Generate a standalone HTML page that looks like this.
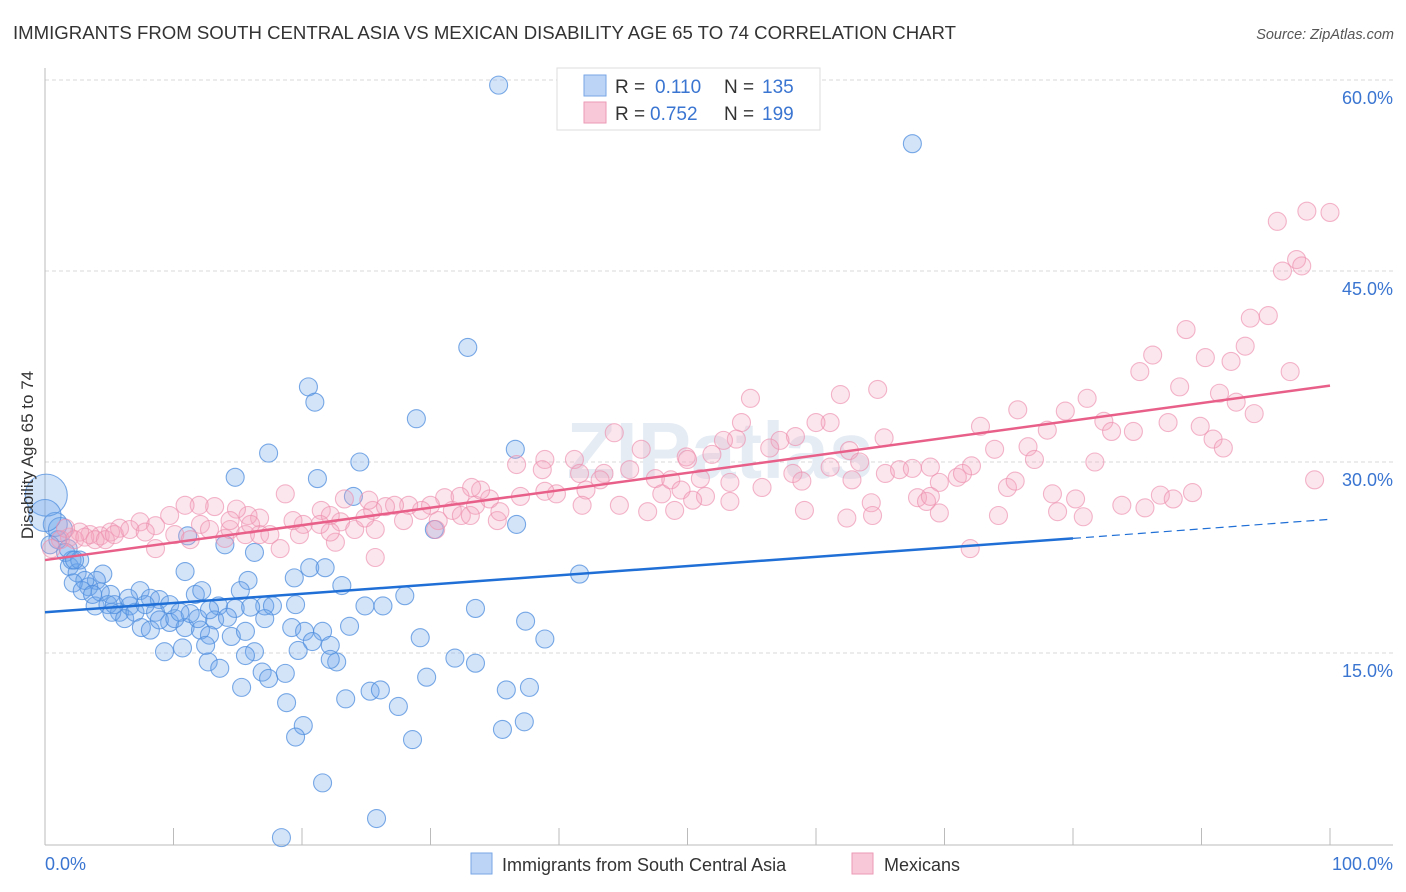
<!DOCTYPE html>
<html><head><meta charset="utf-8">
<style>
body{margin:0;background:#fff;font-family:"Liberation Sans",sans-serif;}
svg{display:block}
</style></head>
<body>
<svg id="chart" width="1406" height="892">
<text x="13" y="39" font-size="18.6" fill="#333">IMMIGRANTS FROM SOUTH CENTRAL ASIA VS MEXICAN DISABILITY AGE 65 TO 74 CORRELATION CHART</text>
<text x="1394" y="39" font-size="14.5" fill="#555" font-style="italic" text-anchor="end">Source: ZipAtlas.com</text>
<g id="grid"></g>
<text x="720" y="478" font-size="80" fill="#e6ecf4" text-anchor="middle" font-weight="bold">ZIPatlas</text>
<g id="axes"></g>
<g id="blue"></g>
<g id="pink"></g>
<g id="trends"></g>
<text x="33" y="455" font-size="17" fill="#333" text-anchor="middle" transform="rotate(-90 33 455)">Disability Age 65 to 74</text>
<text x="45" y="870" font-size="18" fill="#3a75d1">0.0%</text>
<text x="1393" y="870" font-size="18" fill="#3a75d1" text-anchor="end">100.0%</text>
<g>
<rect x="557" y="68" width="263" height="62" fill="#fff" stroke="#ddd"/>
<rect x="584" y="75" width="22" height="21" fill="#bcd4f5" stroke="#7aa6e6"/>
<text x="615" y="93" font-size="19" fill="#333">R = </text><text x="655" y="93" font-size="19" fill="#3a75d1">0.110</text>
<text x="724" y="93" font-size="19" fill="#333">N = </text><text x="762" y="93" font-size="19" fill="#3a75d1">135</text>
<rect x="584" y="102" width="22" height="21" fill="#f8c8d8" stroke="#eb9ab5"/>
<text x="615" y="120" font-size="19" fill="#333">R = </text><text x="650" y="120" font-size="19" fill="#3a75d1">0.752</text>
<text x="724" y="120" font-size="19" fill="#333">N = </text><text x="762" y="120" font-size="19" fill="#3a75d1">199</text>
</g>
<g>
<rect x="471" y="853" width="21" height="21" fill="#bcd4f5" stroke="#7aa6e6"/>
<text x="502" y="871" font-size="18" fill="#333">Immigrants from South Central Asia</text>
<rect x="852" y="853" width="21" height="21" fill="#f8c8d8" stroke="#eb9ab5"/>
<text x="884" y="871" font-size="18" fill="#333">Mexicans</text>
</g>
</svg>
<script>
const yTicks=[15,30,45,60];
const yTickLabels=["15.0%","30.0%","45.0%","60.0%"];
const xTicks=[0,10,20,30,40,50,60,70,80,90,100];
const blueX=[35.3,67.5,32.9,20.5,21.0,28.9,17.4,14.8,21.2,24.5,36.6,24.0,30.3,36.7,41.6,11.1,14.0,16.3,20.6,21.8,10.9,15.8,23.1,19.4,4.5,1.9,2.5,4.0,3.4,5.1,7.4,8.2,8.9,11.7,12.2,13.5,14.8,17.1,17.7,16.0,19.5,24.9,26.3,28.0,33.5,37.4,38.9,3.9,5.8,6.6,8.6,9.7,10.9,12.1,13.2,14.5,15.6,19.2,21.6,20.2,20.8,23.7,22.2,29.2,9.3,10.7,12.7,13.6,16.3,16.9,18.7,19.7,22.7,29.7,31.9,33.5,15.3,25.3,26.1,23.4,27.5,35.9,37.7,18.8,20.1,19.5,37.3,35.6,28.6,21.6,25.8,18.4,1.0,0.8,1.2,0.4,1.6,2.1,2.7,3.1,4.3,4.9,5.2,6.2,7.0,7.5,8.2,8.9,10.1,11.3,11.9,12.8,14.2,15.2,17.1,12.8,0.1,0.0,1.8,2.2,2.9,3.7,5.4,6.5,7.8,9.7,10.5,17.4,15.6,22.2,12.5,2.3];
const blueY=[59.6,55.0,39.0,35.9,34.7,33.4,30.7,28.8,28.7,30.0,31.0,27.3,24.7,25.1,21.2,24.2,23.5,22.9,21.7,21.7,21.4,20.7,20.3,20.9,21.2,21.8,21.3,20.7,20.2,19.6,19.9,19.3,19.2,19.6,19.9,18.7,18.5,18.7,18.7,18.6,18.8,18.7,18.7,19.5,18.5,17.5,16.1,18.7,18.2,18.7,18.2,17.4,17.0,16.8,17.6,16.3,16.7,17.0,16.7,16.7,15.9,17.1,15.6,16.2,15.1,15.4,14.3,13.8,15.1,13.5,13.4,15.2,14.3,13.1,14.6,14.2,12.3,12.0,12.1,11.4,10.8,12.1,12.3,11.1,9.3,8.4,9.6,9.0,8.2,4.8,2.0,0.5,23.9,25.1,24.7,23.5,22.9,22.3,22.3,20.7,19.8,18.8,18.2,17.7,18.2,17.0,16.8,17.6,17.7,18.1,17.7,18.4,17.8,19.9,17.7,16.4,27.4,25.8,23.2,20.5,19.9,19.6,18.8,19.3,18.8,18.8,18.2,13.0,14.8,14.5,15.6,22.3];
const pinkX=[100.0,98.2,95.9,97.4,96.3,97.8,95.2,93.8,88.8,93.4,86.2,90.3,92.3,96.9,85.2,88.3,81.1,91.4,79.4,92.7,94.1,75.7,82.4,87.4,83.0,84.7,89.9,78.0,90.9,91.7,72.8,76.5,77.0,73.9,72.1,65.3,62.6,61.9,64.8,61.1,60.0,58.4,57.2,56.4,54.9,54.2,53.8,52.8,51.9,49.9,44.3,46.4,43.5,41.2,38.9,36.7,38.7,41.6,43.2,42.1,39.8,38.9,45.5,47.5,48.0,48.7,49.5,50.0,51.0,51.4,53.3,55.8,58.2,58.9,61.1,63.4,62.8,65.4,66.5,67.5,68.9,69.6,71.0,71.4,74.9,75.5,78.4,80.2,81.7,83.8,86.8,87.8,89.3,78.8,80.8,74.2,69.6,67.9,68.6,68.9,64.3,62.4,64.4,59.1,53.3,50.4,46.9,49.0,44.7,41.8,37.0,35.2,33.5,34.6,31.7,32.4,31.1,33.9,33.2,32.3,30.6,30.0,29.3,28.3,27.9,27.2,26.5,25.5,25.2,23.3,23.0,21.5,22.2,20.1,19.3,18.7,16.7,15.8,14.9,13.2,12.0,10.9,9.7,8.6,7.4,5.8,5.1,4.3,3.5,2.7,1.9,1.2,0.5,1.6,2.3,3.1,3.9,4.7,5.4,6.6,7.8,8.6,10.1,11.3,12.1,12.8,14.0,14.4,15.6,16.7,18.3,17.5,19.8,22.6,22.2,24.1,24.9,25.7,30.4,25.7,72.0,85.6,98.8,35.4,33.1,14.4,21.4,16.0];
const pinkY=[49.6,49.7,48.9,45.9,45.0,45.4,41.5,41.3,40.4,39.1,38.4,38.2,37.9,37.1,37.1,35.9,35.0,35.4,34.0,34.7,33.8,34.1,33.2,33.1,32.4,32.4,32.8,32.5,31.8,31.1,32.8,31.2,30.2,31.0,29.7,31.9,30.9,35.3,35.7,33.1,33.1,32.0,31.7,31.1,35.0,33.1,31.8,31.7,30.6,30.4,32.3,31.0,29.1,30.2,30.2,29.8,29.4,29.1,28.6,27.8,27.5,27.7,29.4,28.7,27.5,28.6,27.8,30.2,28.7,27.3,28.4,28.0,29.1,28.5,29.6,30.0,28.6,29.1,29.4,29.5,29.6,28.4,28.8,29.1,28.0,28.5,27.5,27.1,30.0,26.6,27.4,27.1,27.6,26.1,25.7,25.8,26.0,27.2,26.9,27.3,26.8,25.6,25.8,26.2,26.9,27.0,26.1,26.2,26.6,26.6,27.3,25.4,26.6,27.1,26.2,25.8,27.2,27.8,28.0,27.3,25.4,26.6,26.2,26.6,25.4,26.6,26.5,26.2,27.0,27.1,25.3,26.2,25.8,25.1,25.4,27.5,25.6,25.8,26.3,26.5,26.6,26.6,25.8,25.0,25.3,24.8,24.5,24.2,24.3,24.5,24.1,23.9,23.2,24.8,23.9,24.1,23.9,23.9,24.3,24.7,24.5,23.2,24.3,23.9,25.1,24.7,24.0,24.7,24.3,24.3,23.2,24.3,24.3,23.7,24.5,24.7,25.6,22.5,24.7,24.7,23.2,26.4,28.6,26.1,25.8,25.4,25.1,25.1];
const blueTrend=[0,18.2,80,24.0,100,25.5];
const pinkTrend=[0,22.3,100,36.0];
const NS='http://www.w3.org/2000/svg';
const xS=v=>45+v*12.85;
const yS=v=>844-v*12.733;
function mk(tag,attrs,parent){const e=document.createElementNS(NS,tag);for(const k in attrs)e.setAttribute(k,attrs[k]);parent.appendChild(e);return e;}
const grid=document.getElementById('grid');
yTicks.forEach((t,i)=>{
 const l=mk('line',{x1:45,x2:1393,y1:yS(t),y2:yS(t),stroke:'#d8d8d8','stroke-dasharray':'4 3'},grid);
 
 
 const tx=mk('text',{x:1393,y:yS(t)+24,'font-size':18,fill:'#3a75d1','text-anchor':'end'},grid);
 tx.textContent=yTickLabels[i];
 
 
});
const axes=document.getElementById('axes');
mk('line',{x1:45,x2:45,y1:68,y2:845,stroke:'#bbb'},axes);
mk('line',{x1:45,x2:1393,y1:845,y2:845,stroke:'#bbb'},axes);
xTicks.forEach(t=>{
 const l=mk('line',{x1:xS(t),x2:xS(t),y1:828,y2:845,stroke:'#bbb'},axes);
 
 
});
const bg=document.getElementById('blue');
blueX.forEach((x,i)=>{
 const y=blueY[i];
 let r=9;
 if(x<=0.15&&y>27)r=21; else if(x===0&&y>25)r=16; else if(x<=1.3&&y>24.5)r=12;
 const c=mk('circle',{cx:xS(x),cy:yS(y),r:r,fill:'rgba(110,165,235,0.3)',stroke:'#4f8ede','stroke-width':1.1,'stroke-opacity':0.75},bg);
 
 
});
const pg=document.getElementById('pink');
pinkX.forEach((x,i)=>{
 const c=mk('circle',{cx:xS(x),cy:yS(pinkY[i]),r:9,fill:'rgba(245,165,192,0.28)',stroke:'#ec8fae','stroke-width':1.1,'stroke-opacity':0.65},pg);
 
 
});
const tg=document.getElementById('trends');
const bl=mk('line',{x1:xS(blueTrend[0]),y1:yS(blueTrend[1]),x2:xS(blueTrend[2]),y2:yS(blueTrend[3]),stroke:'#1f6fd6','stroke-width':2.5},tg);


const bd=mk('line',{x1:xS(blueTrend[2]),y1:yS(blueTrend[3]),x2:xS(blueTrend[4]),y2:yS(blueTrend[5]),stroke:'#1f6fd6','stroke-width':1.2,'stroke-dasharray':'8 5'},tg);


const pl=mk('line',{x1:xS(pinkTrend[0]),y1:yS(pinkTrend[1]),x2:xS(pinkTrend[2]),y2:yS(pinkTrend[3]),stroke:'#e8608a','stroke-width':2.5},tg);


</script>
</body></html>
